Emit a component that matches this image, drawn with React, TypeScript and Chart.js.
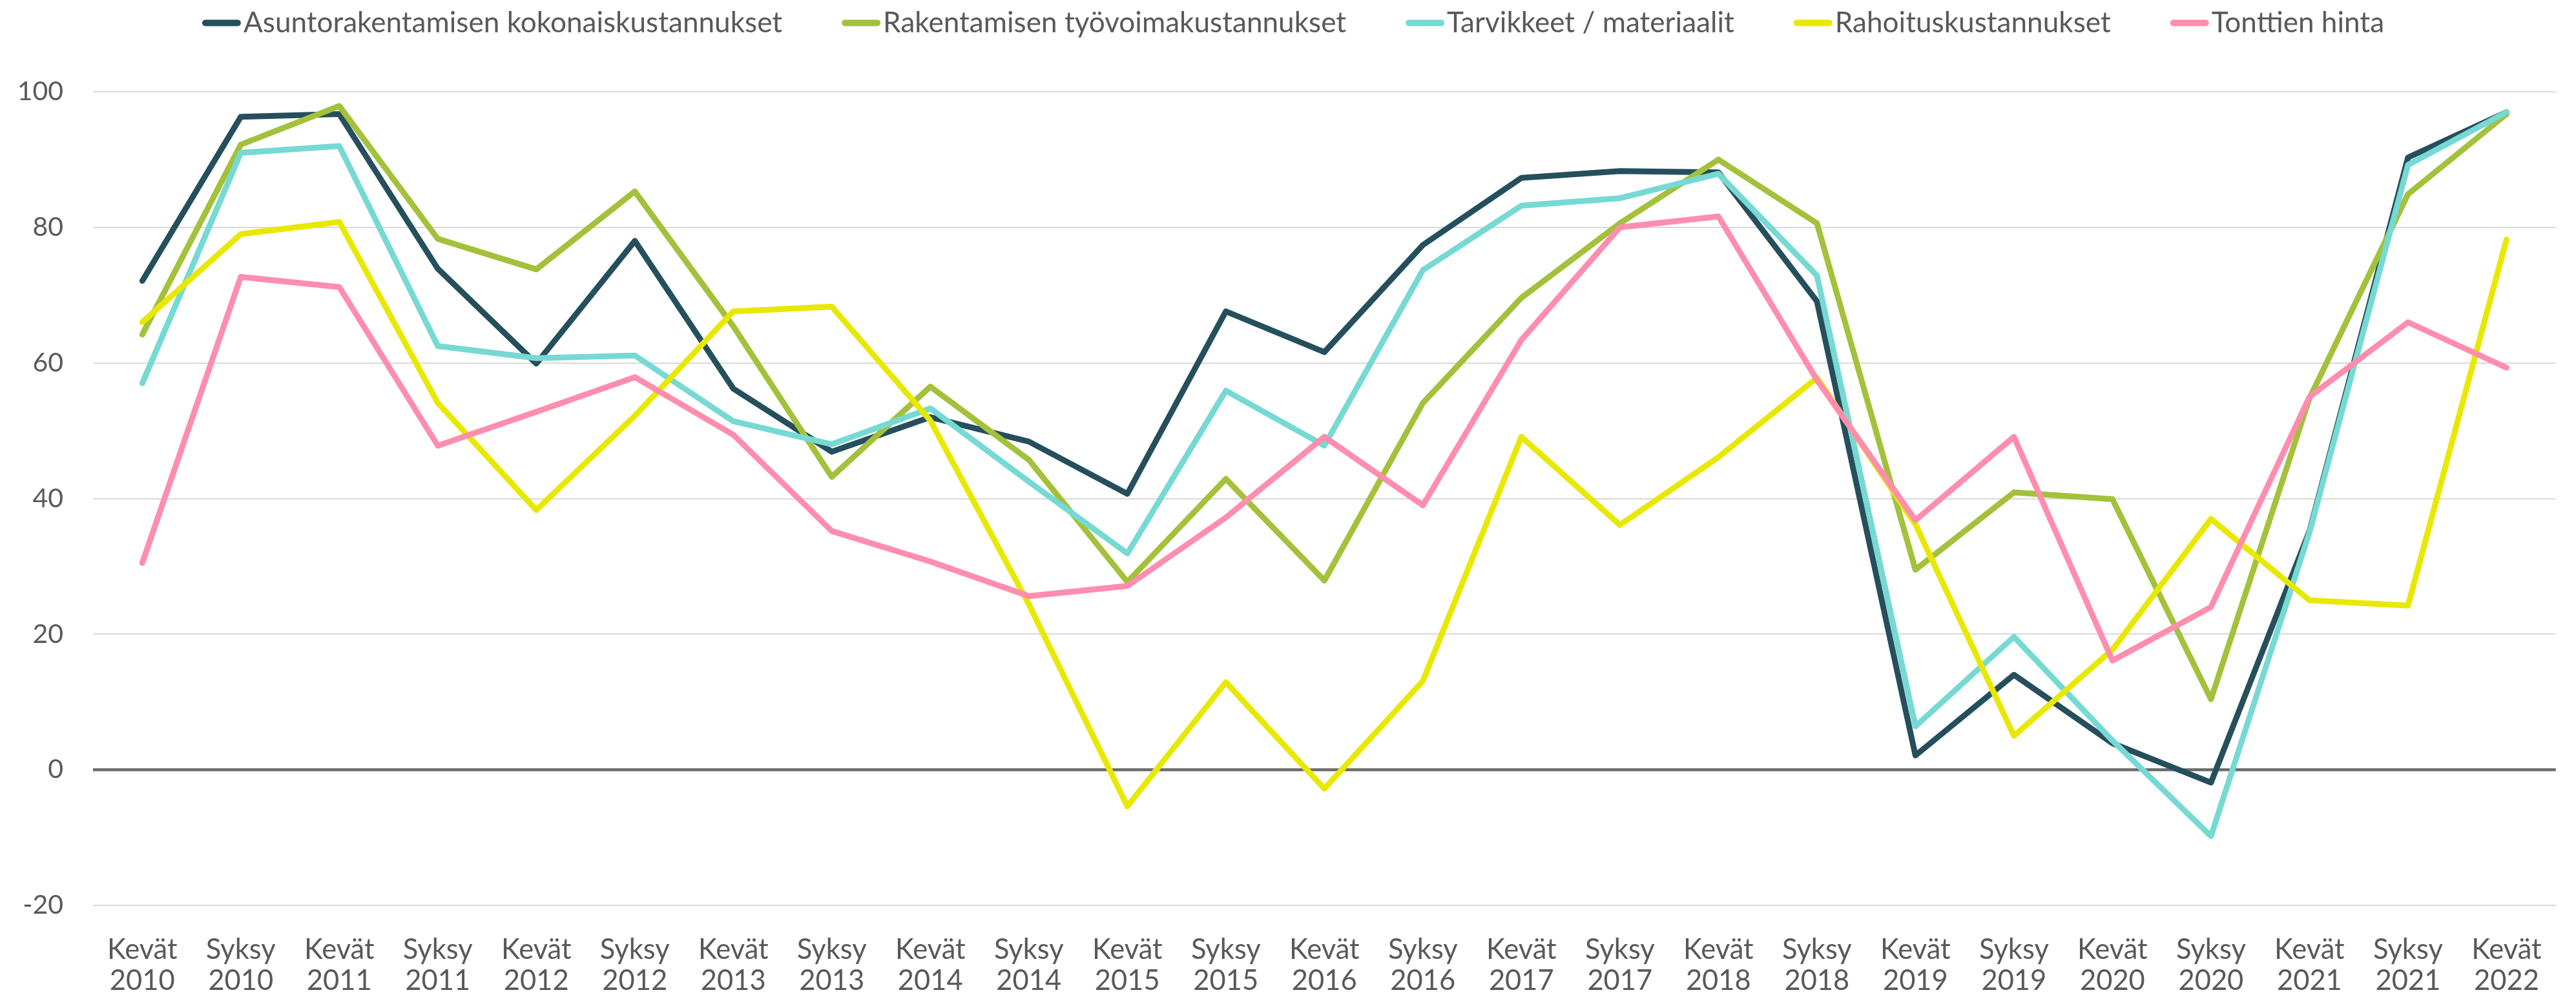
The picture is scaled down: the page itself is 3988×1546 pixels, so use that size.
import React, { useEffect, useRef } from "react";
import { Chart, registerables } from "chart.js";

Chart.register(...registerables);

const seasons = [
  "Kevät", "Syksy", "Kevät", "Syksy", "Kevät", "Syksy", "Kevät", "Syksy", "Kevät", "Syksy",
  "Kevät", "Syksy", "Kevät", "Syksy", "Kevät", "Syksy", "Kevät", "Syksy", "Kevät", "Syksy",
  "Kevät", "Syksy", "Kevät", "Syksy", "Kevät",
];
const years = [
  "2010", "2010", "2011", "2011", "2012", "2012", "2013", "2013", "2014", "2014",
  "2015", "2015", "2016", "2016", "2017", "2017", "2018", "2018", "2019", "2019",
  "2020", "2020", "2021", "2021", "2022",
];

const seriesNames = [
  "Asuntorakentamisen kokonaiskustannukset",
  "Rakentamisen työvoimakustannukset",
  "Tarvikkeet / materiaalit",
  "Rahoituskustannukset",
  "Tonttien hinta",
];

const kokonais = [72.1, 96.3, 96.7, 73.9, 59.9, 78.0, 56.2, 46.9, 52.0, 48.4, 40.7, 67.6, 61.6, 77.4, 87.3, 88.3, 88.1, 69.1, 2.1, 14.0, 3.9, -1.9, 35.2, 90.3, 97.0];
const tyovoima = [64.2, 92.2, 97.9, 78.3, 73.8, 85.3, 65.4, 43.2, 56.5, 45.7, 27.7, 42.9, 27.9, 54.1, 69.6, 80.6, 90.0, 80.6, 29.5, 40.9, 39.9, 10.4, 54.8, 84.9, 96.7];
const tarvikkeet = [57.0, 91.0, 92.0, 62.5, 60.7, 61.1, 51.4, 48.0, 53.3, 42.5, 31.9, 55.9, 47.8, 73.7, 83.2, 84.3, 87.9, 72.9, 6.4, 19.6, 4.3, -9.8, 35.0, 89.2, 97.0];
const rahoitus = [66.0, 79.0, 80.8, 54.1, 38.3, 52.2, 67.6, 68.3, 51.5, 24.4, -5.4, 12.9, -2.8, 13.1, 49.1, 36.1, 46.1, 57.8, 36.2, 5.0, 17.7, 37.0, 25.0, 24.2, 78.2];
const tontit = [30.5, 72.7, 71.2, 47.8, 52.8, 57.9, 49.4, 35.2, 30.7, 25.6, 27.1, 37.2, 49.1, 39.0, 63.4, 80.0, 81.6, 57.5, 36.8, 49.1, 16.1, 24.0, 55.0, 66.0, 59.3];

const yMin = -20;
const yMax = 100;
const yStep = 20;

const colors = ["#254f5c", "#a3c13a", "#76d9d3", "#e8e800", "#ff8dae"];
const TEXT = "#595959";
const FONT = "Lato";

const legendPlugin = {
  id: "customLegend",
  afterDraw(chart: any) {
    const ctx = chart.ctx;
    ctx.save();
    ctx.font = `44.1px ${FONT}`;
    const markerW = 60;
    const textGap = 4;
    const itemGap = 92;
    const ds = chart.data.datasets;
    const widths = ds.map((d: any) => markerW + textGap + ctx.measureText(d.label).width);
    const total = widths.reduce((a: number, b: number) => a + b, 0) + itemGap * (ds.length - 1);
    let x = (chart.width - total) / 2 + 8;
    const baseline = 41.5;
    const markerY = 27.5;
    ds.forEach((d: any, i: number) => {
      ctx.strokeStyle = d.borderColor;
      ctx.lineWidth = 10;
      ctx.lineCap = "round";
      ctx.beginPath();
      ctx.moveTo(x + 5, markerY);
      ctx.lineTo(x + markerW - 5, markerY);
      ctx.stroke();
      ctx.fillStyle = TEXT;
      ctx.textBaseline = "alphabetic";
      ctx.textAlign = "left";
      ctx.fillText(d.label, x + markerW + textGap, baseline);
      x += widths[i] + itemGap;
    });
    ctx.restore();
  },
};

export default function App() {
  const ref = useRef<HTMLCanvasElement | null>(null);
  useEffect(() => {
    if (!ref.current) return;
    const series = [kokonais, tyovoima, tarvikkeet, rahoitus, tontit];
    const chart = new Chart(ref.current, {
      type: "line",
      data: {
        labels: seasons.map((s, i) => [s, years[i]]),
        datasets: series.map((data, i) => ({
          label: seriesNames[i],
          data,
          borderColor: colors[i],
          backgroundColor: colors[i],
          borderWidth: 9,
          pointRadius: 0,
          pointHoverRadius: 0,
          tension: 0,
          fill: false,
          borderCapStyle: "round" as const,
          borderJoinStyle: "round" as const,
          order: 5 - i,
        })),
      },
      options: {
        animation: false,
        responsive: false,
        devicePixelRatio: 1,
        layout: { padding: { top: 134, right: 16, left: 0, bottom: 0 } },
        plugins: {
          legend: { display: false },
          tooltip: { enabled: false },
        },
        scales: {
          x: {
            type: "category",
            offset: true,
            grid: { display: false, drawTicks: false },
            border: { display: false },
            ticks: {
              color: TEXT,
              font: { family: FONT, size: 43.5, lineHeight: 48 / 43.5 },
              padding: 45,
              maxRotation: 0,
              minRotation: 0,
              autoSkip: false,
            },
            afterFit(scale: any) {
              scale.height = 141;
            },
          },
          y: {
            min: yMin,
            max: yMax,
            border: { display: false },
            grid: {
              drawTicks: false,
              color: (c: any) => (c.tick && c.tick.value === 0 ? "#6b6b6b" : "#d9d9d9"),
              lineWidth: (c: any) => (c.tick && c.tick.value === 0 ? 4.5 : 2),
            },
            ticks: {
              stepSize: yStep,
              color: TEXT,
              font: { family: FONT, size: 41 },
              padding: 46,
            },
            afterFit(scale: any) {
              scale.width = 136;
            },
          },
        },
      },
      plugins: [legendPlugin],
    });
    return () => chart.destroy();
  }, []);
  return (
    <div style={{ width: 3972, height: 1534 }}>
      <canvas ref={ref} width={3972} height={1534} style={{ display: "block" }} />
    </div>
  );
}
